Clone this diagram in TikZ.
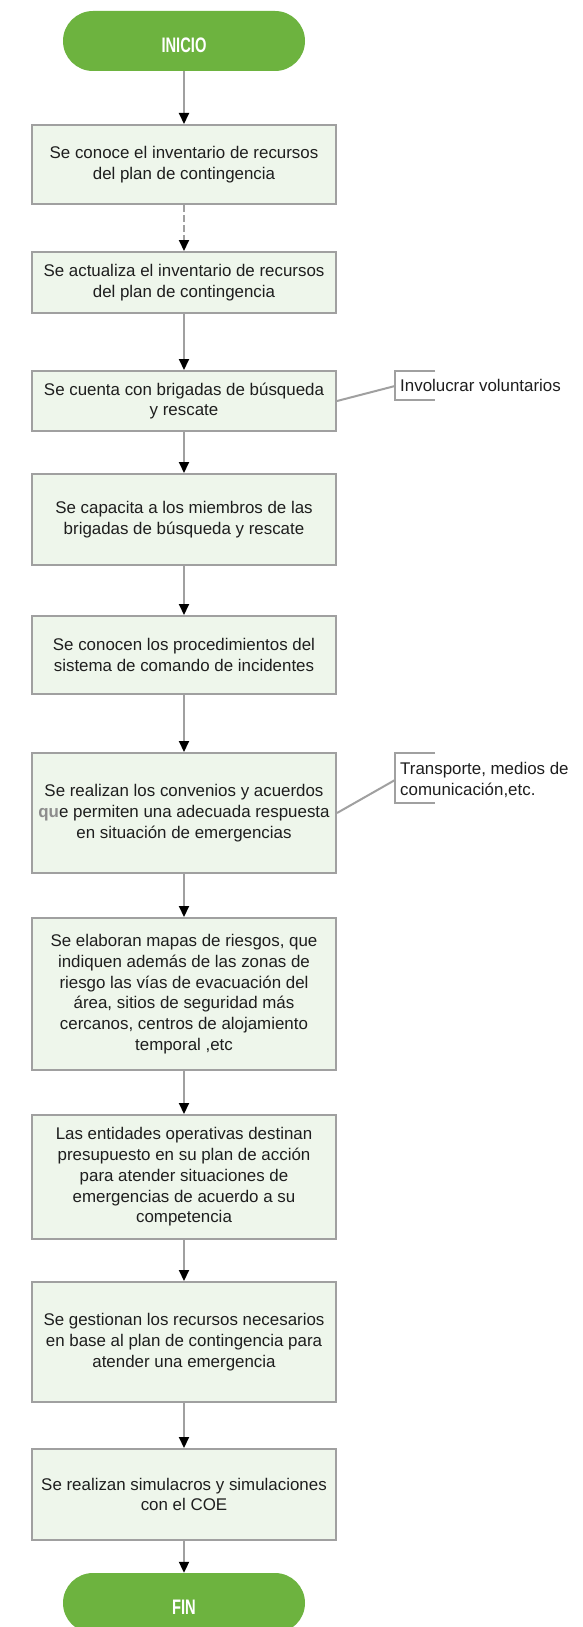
\documentclass[tikz,border=0pt]{standalone}
\usepackage{fontspec}
\usepackage{graphicx}
\setmainfont{Liberation Sans}
\usetikzlibrary{arrows.meta}
\definecolor{pillgreen}{RGB}{109,179,63}
\definecolor{boxfill}{RGB}{238,246,235}
\definecolor{boxline}{RGB}{160,160,160}
\definecolor{txt}{RGB}{30,30,30}
\definecolor{qugray}{RGB}{140,140,140}
\begin{document}
\begin{tikzpicture}[x=1pt,y=-1pt,
  every node/.style={font=\fontsize{16.9}{20.7}\selectfont, text=txt},
  stepbox/.style={draw=boxline, line width=2pt, fill=boxfill, minimum width=304pt, inner sep=0pt, align=center},
  pill/.style={fill=pillgreen, rounded corners=30pt, minimum width=242pt, minimum height=60pt, inner sep=0pt},
  pilltext/.style={text=white, font=\fontsize{21}{22}\selectfont\bfseries},
  conn/.style={draw=boxline, line width=2pt, -{Triangle[width=10pt,length=11pt,color=black]}},
  note/.style={draw=boxline, line width=2pt}
]
\useasboundingbox (0,0) rectangle (582,1627);
\fill[white] (0,0) rectangle (582,1627);

\node[pill] (ini) at (184,41) {};
\node[pilltext] (initxt) at (184,45) {\scalebox{0.7}[1]{INICIO}};

\node[stepbox, minimum height=79pt] (b1) at (184,164.5) {Se conoce el inventario de recursos\\del plan de contingencia};
\node[stepbox, minimum height=61pt] (b2) at (184,282.5) {Se actualiza el inventario de recursos\\del plan de contingencia};
\node[stepbox, minimum height=60pt] (b3) at (184,401) {Se cuenta con brigadas de búsqueda\\y rescate};
\node[stepbox, minimum height=91pt] (b4) at (184,519.5) {Se capacita a los miembros de las\\brigadas de búsqueda y rescate};
\node[stepbox, minimum height=78pt] (b5) at (184,655) {Se conocen los procedimientos del\\sistema de comando de incidentes};
\node[stepbox, minimum height=120pt] (b6) at (184,813) {Se realizan los convenios y acuerdos\\{\color{qugray}\bfseries qu}e permiten una adecuada respuesta\\en situación de emergencias};
\node[stepbox, minimum height=152pt] (b7) at (184,994) {Se elaboran mapas de riesgos, que\\indiquen además de las zonas de\\riesgo las vías de evacuación del\\área, sitios de seguridad más\\cercanos, centros de alojamiento\\temporal ,etc};
\node[stepbox, minimum height=124pt] (b8) at (184,1177) {Las entidades operativas destinan\\presupuesto en su plan de acción\\para atender situaciones de\\emergencias de acuerdo a su\\competencia};
\node[stepbox, minimum height=120pt] (b9) at (184,1342) {Se gestionan los recursos necesarios\\en base al plan de contingencia para\\atender una emergencia};
\node[stepbox, minimum height=91pt] (b10) at (184,1494.5) {Se realizan simulacros y simulaciones\\con el COE};

\node[pill] (fin) at (184,1603) {};
\node[pilltext] (fintxt) at (184,1607) {\scalebox{0.7}[1]{FIN}};

\draw[conn] (ini.south) -- (b1.north);
\draw[conn, dash pattern=on 7pt off 3pt] (b1.south) -- (b2.north);
\draw[conn] (b2.south) -- (b3.north);
\draw[conn] (b3.south) -- (b4.north);
\draw[conn] (b4.south) -- (b5.north);
\draw[conn] (b5.south) -- (b6.north);
\draw[conn] (b6.south) -- (b7.north);
\draw[conn] (b7.south) -- (b8.north);
\draw[conn] (b8.south) -- (b9.north);
\draw[conn] (b9.south) -- (b10.north);
\draw[conn] (b10.south) -- (fin.north);

% annotation 1
\node[anchor=west, inner sep=0pt] (a1) at (400,385) {Involucrar voluntarios};
\coordinate (a1c) at (395,386);
\draw[note] (435,371) -- (395,371) -- (395,400) -- (435,400);
\draw[note] (b3.east) -- (a1c);

% annotation 2
\node[anchor=west, inner sep=0pt, align=left] (a2) at (400,780) {Transporte, medios de\\comunicación,etc.};
\coordinate (a2c) at (395,780);
\draw[note] (435,753) -- (395,753) -- (395,803) -- (435,803);
\draw[note] (b6.east) -- (a2c);
\end{tikzpicture}
\end{document}
